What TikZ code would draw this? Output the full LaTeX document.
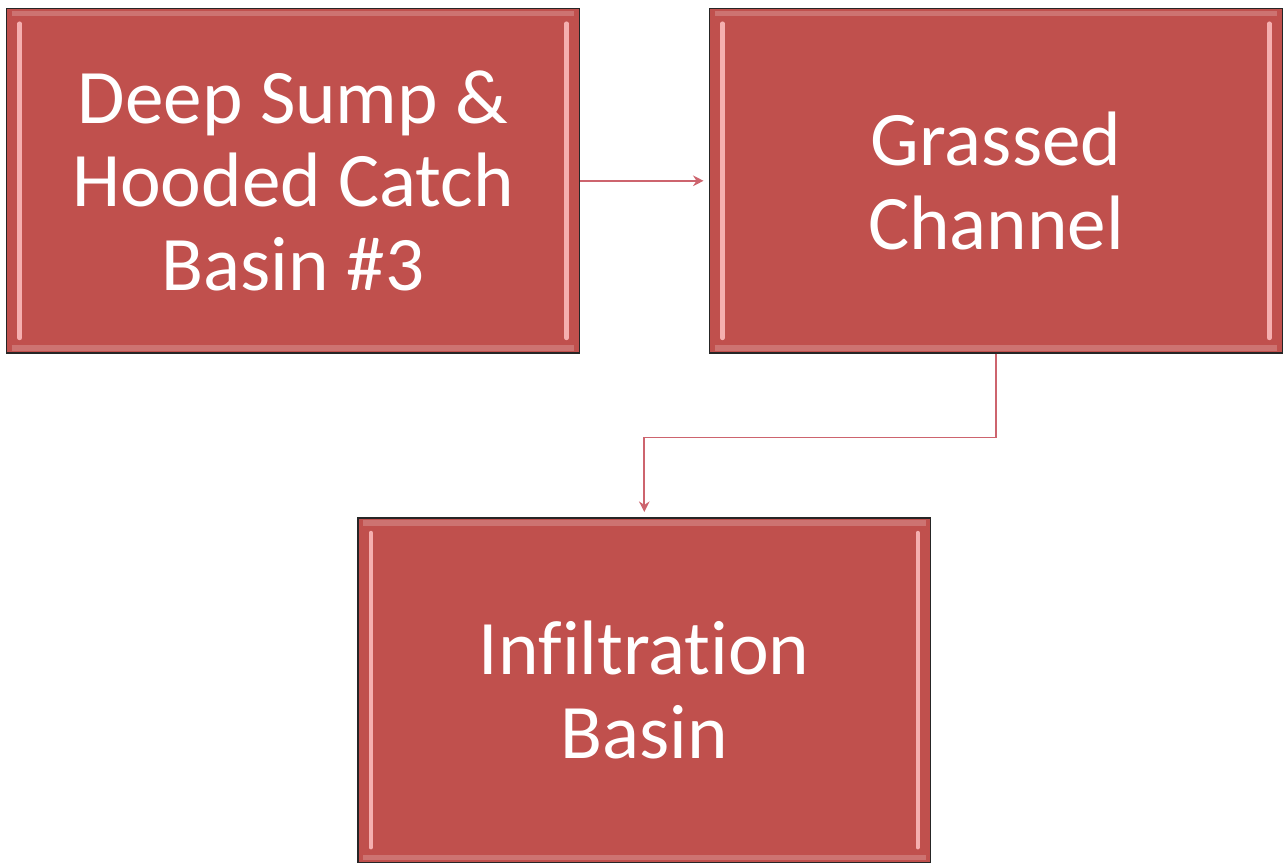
\documentclass[tikz,border=0pt]{standalone}
\usepackage{fontspec}
\setmainfont[Ligatures={NoCommon}]{Carlito}
\usepackage{tikz}
\usetikzlibrary{positioning, arrows.meta, calc}

\definecolor{boxred}{RGB}{192,80,77}
\definecolor{bevelpink}{RGB}{245,175,175}
\definecolor{linkred}{RGB}{205,100,110}

\begin{document}
\begin{tikzpicture}[
	node distance=3.28cm and 2.58cm,
	>={Stealth[length=6pt,width=6pt]},
	% Style for Nodes
	stage/.style={
		rectangle,
		draw=black!85,
		line width=0.8pt,
		fill=boxred,
		text=white,
		minimum width=11.48cm,
		minimum height=6.9cm,
		align=center,
		font=\fontsize{44}{47.6}\selectfont,
		path picture={
			% soft top and bottom bevel
			\draw[boxred!80!white, line width=3pt]
				([shift={(0.1,-0.1)}]path picture bounding box.north west) -- ([shift={(-0.1,-0.1)}]path picture bounding box.north east)
				([shift={(0.1,0.1)}]path picture bounding box.south west) -- ([shift={(-0.1,0.1)}]path picture bounding box.south east);
			% bright side bevel
			\draw[bevelpink, line width=2.5pt, line cap=round]
				([shift={(0.26,-0.3)}]path picture bounding box.north west) -- ([shift={(0.26,0.3)}]path picture bounding box.south west)
				([shift={(-0.26,-0.3)}]path picture bounding box.north east) -- ([shift={(-0.26,0.3)}]path picture bounding box.south east);
		}
	},
	% Arrow Styles
	flow/.style={->, draw=linkred, line width=1pt}
	]
	
	% --- TOP ROW ---
	\node[stage] (Sump) {Deep Sump \&\\Hooded Catch\\Basin \#3};
	\node[stage, right=of Sump] (Grass) {Grassed\\Channel};
	
	% --- BOTTOM ROW ---
	\node[stage, below=of Sump.south, anchor=north, xshift=7.04cm] (Infil) {Infiltration\\Basin};
	
	% --- CONNECTIONS ---
	\draw[flow] (Sump.east) -- ([xshift=-3pt]Grass.west);
	\draw[flow] (Grass.south) -- ++(0,-1.68) -| ([yshift=3pt]Infil.north);
	
	% frame
	\useasboundingbox ($(Sump.north west)+(-0.12,0.16)$) rectangle ($(Sump.north west)+(25.54,-17.10)$);
	
\end{tikzpicture}
\end{document}
